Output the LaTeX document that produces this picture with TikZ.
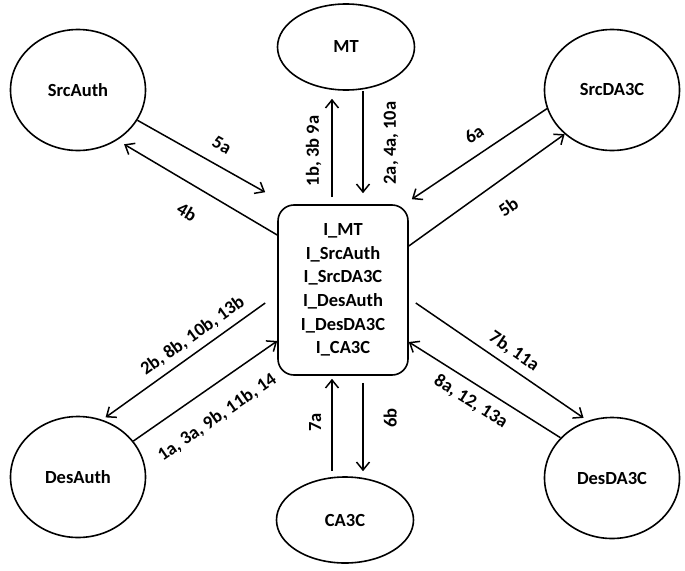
\documentclass[tikz,border=0pt]{standalone}
\usepackage{fontspec}
\setmainfont{Carlito}
\usetikzlibrary{arrows.meta, shapes.geometric}
\tikzset{
  entity/.style={
    ellipse,
    draw=black,
    line width=1.6pt,
    inner sep=0pt,
    font=\fontsize{18.5}{22}\selectfont\bfseries
  },
  roundentity/.style={entity, minimum width=135pt, minimum height=121pt},
  flatentity/.style={entity, minimum width=137pt, minimum height=86pt},
  hubbox/.style={
    rectangle,
    rounded corners=16pt,
    draw=black,
    line width=1.6pt,
    align=center,
    minimum width=130pt,
    minimum height=170pt,
    font=\fontsize{18.5}{23.6}\selectfont\bfseries
  },
  arrow/.style={-{Straight Barb[length=8pt, width=13pt]}, line width=1.5pt},
  lbl/.style={font=\fontsize{18.5}{22}\selectfont\bfseries, inner sep=1pt}
}

\begin{document}
\begin{tikzpicture}[x=1pt, y=1pt]
  \useasboundingbox (0,0) rectangle (685,-570);

  \node[hubbox] (hub) at (343,-290) {I\_MT\\I\_SrcAuth\\I\_SrcDA3C\\I\_DesAuth\\I\_DesDA3C\\I\_CA3C};

  \node[flatentity] (mt) at (346,-47) {MT};
  \node[flatentity] (ca3c) at (345,-520) {CA3C};
  \node[roundentity] (srcauth) at (78,-90) {SrcAuth};
  \node[roundentity] (srcda3c) at (612,-90) {SrcDA3C};
  \node[roundentity] (desauth) at (78,-477) {DesAuth};
  \node[roundentity] (desda3c) at (612,-478) {DesDA3C};

  % SrcAuth
  \draw[arrow] (srcauth.-27) -- ([xshift=-12pt, yshift=12pt]hub.north west)
    node[lbl, sloped, pos=.585, above=12pt] {5a};
  \draw[arrow, shorten >=8pt] ([yshift=55pt]hub.west) -- (srcauth.-52)
    node[lbl, sloped, pos=.48, below=18pt] {4b};

  % SrcDA3C
  \draw[arrow] (srcda3c.196) -- ([xshift=3pt, yshift=5pt]hub.north east)
    node[lbl, sloped, pos=.46, above=11pt] {6a};
  \draw[arrow] ([yshift=44pt]hub.east) -- (srcda3c.-137)
    node[lbl, sloped, pos=.54, below=18pt] {5b};

  % MT
  \draw[arrow] ([xshift=-11pt, yshift=7pt]hub.north) -- ([xshift=-14pt, yshift=-8pt]mt.south)
    node[lbl, pos=.47, rotate=90, above=9pt] {1b, 3b 9a};
  \draw[arrow] ([xshift=17pt]mt.south) -- ([xshift=20pt, yshift=11pt]hub.north)
    node[lbl, pos=.51, rotate=90, below=19pt] {2a, 4a, 10a};

  % CA3C
  \draw[arrow] ([xshift=-13pt, yshift=5pt]ca3c.north) -- ([xshift=-11pt, yshift=-3pt]hub.south)
    node[lbl, pos=.53, rotate=90, above=9pt] {7a};
  \draw[arrow] ([xshift=20pt, yshift=-7pt]hub.south) -- ([xshift=18pt, yshift=5pt]ca3c.north)
    node[lbl, pos=.4, rotate=90, below=19pt] {6b};

  % DesAuth
  \draw[arrow, shorten >=4pt] ([xshift=-12pt, yshift=-13pt]hub.west) -- (desauth.67)
    node[lbl, sloped, pos=.39, above=6pt] {2b, 8b, 10b, 13b};
  \draw[arrow] (desauth.33) -- ([yshift=-51pt]hub.west)
    node[lbl, sloped, pos=.47, below=19pt] {1a, 3a, 9b, 11b, 14};

  % DesDA3C
  \draw[arrow, shorten >=5pt] ([xshift=7pt, yshift=-13pt]hub.east) -- (desda3c.113)
    node[lbl, sloped, pos=.52, above=6pt] {7b, 11a};
  \draw[arrow] (desda3c.142) -- ([yshift=-52pt]hub.east)
    node[lbl, sloped, pos=.53, below=8pt] {8a, 12, 13a};
\end{tikzpicture}
\end{document}
